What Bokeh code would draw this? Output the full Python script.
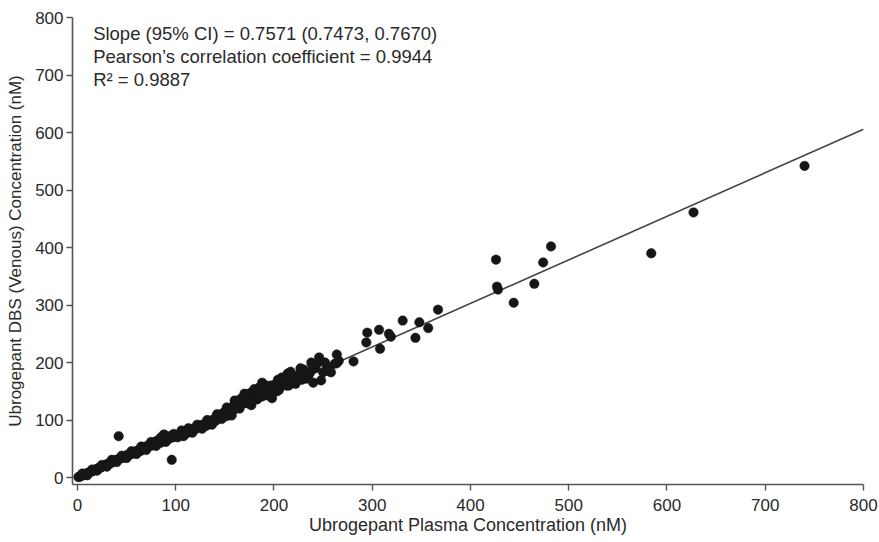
from bokeh.plotting import figure
from bokeh.models import Range1d, Label, FixedTicker
from bokeh.embed import file_html
from bokeh.resources import INLINE

# ---- data ----
plasma = [
    1, 2, 3, 3.5, 4, 5, 6, 7, 8, 9, 10, 11, 12, 13, 14, 15, 16, 17, 18, 19, 20,
    21, 22, 23, 24, 25, 26, 27, 28, 29, 30,
    31, 32, 33, 34, 35, 36, 37, 38, 39, 40, 41, 42, 43, 44, 45, 46, 47, 48, 49, 50,
    51, 52, 53, 54, 55, 56, 57, 58, 59, 60,
    61, 62, 63, 64, 65, 66, 67, 68, 69, 70, 71, 72, 73, 74, 75, 76, 77, 78, 79, 80,
    81, 82, 83, 84, 85, 86, 87, 88, 89, 90, 91, 92, 93, 95, 97, 99, 101, 103,
    5, 10, 15, 20, 25, 30, 35, 40, 45, 50, 55, 60, 65, 70, 75, 80, 85, 88, 90, 94,
    98, 102,
    42, 96,
    105, 107, 109, 110, 112, 114, 116, 118, 119, 121, 123, 125, 126, 128, 130, 131,
    133, 135, 136, 138, 140, 141, 143, 145, 146, 148, 149, 150,
    106, 108, 113, 117, 122, 127, 132, 137, 142, 147,
    151, 152, 153, 155, 156, 157, 158, 159, 160, 161, 162, 163, 164, 165, 166, 167,
    168, 169, 170, 171, 172, 173, 174, 175, 176, 177, 178, 180, 182, 183, 185, 186,
    188, 190, 192, 194, 196, 198, 200,
    152, 157, 160, 165, 170, 175, 180, 184, 188, 193, 197,
    202, 204, 205, 207, 210, 212, 214, 215, 218, 220, 222, 225, 228, 230, 232, 235,
    237, 239, 240, 242, 244, 246, 248, 250, 252, 253, 256, 258, 262, 264, 264, 266,
    203, 208, 213, 217, 223, 227, 233, 238,
    281, 294, 295, 307, 308, 317, 319, 331, 344, 348, 357, 367,
    426, 427, 428, 444, 465, 474, 482, 584, 627, 740,
]
dbs_venous = [
    1, 1.5, 2, 3, 3, 4, 4.5, 5, 6, 7, 7.5, 8, 9, 10, 10.5, 11, 12, 13, 13.5, 14, 15,
    16, 17, 17, 18, 19, 20, 21, 21, 22, 23,
    24, 24, 26, 25, 27, 28, 28, 29, 30, 31, 30, 32, 33, 34, 34, 36, 35, 37, 38, 38,
    39, 40, 41, 40, 42, 43, 44, 43, 45, 46,
    44, 47, 48, 46, 50, 49, 52, 50, 53, 51, 55, 54, 57, 55, 58, 56, 60, 57, 62, 59,
    64, 61, 66, 60, 68, 63, 70, 66, 73, 68, 66, 70, 72, 71, 70, 72, 73, 74,
    7, 4, 14, 12, 22, 19, 31, 27, 38, 34, 46, 41, 54, 48, 62, 55, 70, 75, 62, 68,
    76, 70,
    72, 31,
    76, 75, 78, 76, 80, 79, 84, 82, 86, 85, 88, 87, 91, 92, 94, 90,
    96, 99, 95, 100, 103, 99, 106, 104, 110, 108, 113, 110,
    82, 72, 86, 78, 92, 85, 100, 92, 110, 102,
    116, 107, 114, 118, 112, 121, 116, 125, 119, 130, 122, 127, 134, 125, 130, 138,
    128, 133, 141, 130, 136, 145, 132, 138, 147, 126, 140, 144, 151, 136, 147, 158,
    141, 150, 160, 146, 152, 138, 155,
    122, 108, 134, 120, 146, 128, 154, 140, 165, 143, 160,
    163, 170, 152, 158, 165, 172, 181, 160, 168, 175, 163, 178, 170, 188, 180, 176,
    183, 195, 165, 190, 198, 209, 169, 183, 200, 186, 191, 183, 198, 214, 199, 203,
    150, 174, 160, 184, 170, 190, 172, 200,
    202, 235, 252, 257, 224, 250, 245, 273, 243, 270, 260, 292,
    379, 332, 327, 304, 337, 374, 402, 390, 461, 542,
]
slope = 0.7571
fit_x = [0, 800]
annotations = [
    "Slope (95% CI) = 0.7571 (0.7473, 0.7670)",
    "Pearson\u2019s correlation coefficient = 0.9944",
    "R\u00b2 = 0.9887",
]
x_ticks = [0, 100, 200, 300, 400, 500, 600, 700, 800]
y_ticks = [0, 100, 200, 300, 400, 500, 600, 700, 800]

FONT = "Liberation Sans"
TXT = "#2a2a2a"
AX = "#555555"

p = figure(width=879, height=542, output_backend="svg", toolbar_location=None,
           x_range=Range1d(-5, 800), y_range=Range1d(-12, 800),
           min_border_left=72, min_border_right=16, min_border_top=17,
           min_border_bottom=58)
p.outline_line_color = None
p.xgrid.visible = False
p.ygrid.visible = False
p.background_fill_color = "white"

fit_y = [slope * v for v in fit_x]
p.line(fit_x, fit_y, line_color="#444444", line_width=1.6)
p.scatter(plasma, dbs_venous, size=9.5, fill_color="#161616", line_color="#161616",
          line_width=0.5)

for ax, ticks in ((p.xaxis[0], x_ticks), (p.yaxis[0], y_ticks)):
    ax.ticker = FixedTicker(ticks=ticks)
    ax.minor_tick_line_color = None
    ax.axis_line_color = AX
    ax.axis_line_width = 1.6
    ax.major_tick_line_color = AX
    ax.major_tick_line_width = 1.4
    ax.major_tick_in = 0
    ax.major_tick_out = 6
    ax.major_label_text_font = FONT
    ax.major_label_text_font_size = "17px"
    ax.major_label_text_color = TXT
    ax.axis_label_text_font = FONT
    ax.axis_label_text_font_style = "normal"
    ax.axis_label_text_color = TXT

p.xaxis.axis_label_text_font_size = "18px"
p.yaxis.axis_label_text_font_size = "17px"
p.xaxis.axis_label = "Ubrogepant Plasma Concentration (nM)"
p.yaxis.axis_label = "Ubrogepant DBS (Venous) Concentration (nM)"
p.xaxis.major_label_standoff = 8
p.xaxis.axis_label_standoff = 1
p.yaxis.major_label_standoff = 3
p.yaxis.axis_label_standoff = 7

for i, t in enumerate(annotations):
    p.add_layout(Label(x=16, y=790 - i * 40, text=t, text_font=FONT,
                       text_font_size="18.5px", text_color=TXT,
                       text_baseline="top"))

open("out.html", "w").write(file_html(p, INLINE))
